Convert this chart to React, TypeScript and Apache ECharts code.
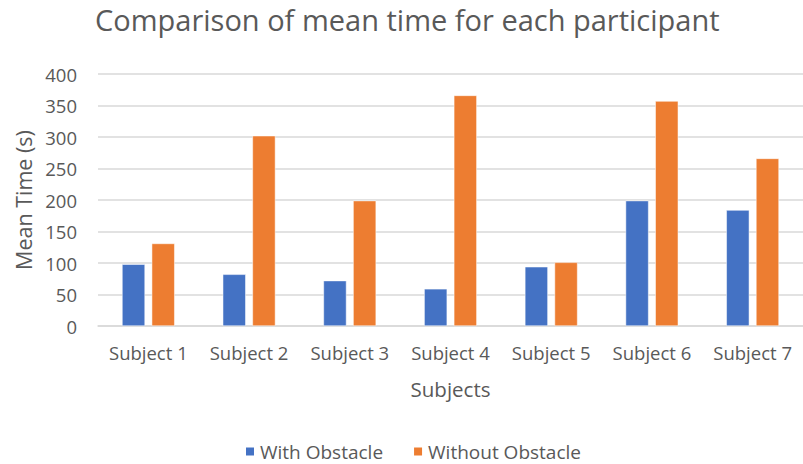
import React, { useEffect, useRef } from "react";
import * as echarts from "echarts";

const categories = ["Subject 1", "Subject 2", "Subject 3", "Subject 4", "Subject 5", "Subject 6", "Subject 7"];
const withObstacle = [98, 82, 72, 59, 94, 199, 184];
const withoutObstacle = [131, 302, 199, 366, 101, 357, 266];
const seriesNames = ["With Obstacle", "Without Obstacle"];

const FONT = "'Open Sans', 'Noto Sans', sans-serif";
const TXT = "#595959";

export default function App() {
  const ref = useRef<HTMLDivElement>(null);
  useEffect(() => {
    if (!ref.current) return;
    const chart = echarts.init(ref.current, undefined, { renderer: "svg" });
    chart.setOption({
      animation: false,
      backgroundColor: "#ffffff",
      textStyle: { fontFamily: FONT },
      title: {
        text: "Comparison of mean time for each participant",
        left: 90,
        top: 0,
        textStyle: { fontFamily: FONT, fontSize: 29, fontWeight: "normal", color: TXT },
      },
      legend: {
        data: seriesNames,
        left: 239,
        top: 437,
        itemWidth: 10,
        itemHeight: 10,
        itemGap: 29,
        icon: "rect",
        textStyle: { fontFamily: FONT, fontSize: 19, color: TXT },
      },
      grid: { left: 98, right: -11, top: 74, bottom: 138, containLabel: false },
      xAxis: {
        type: "category",
        data: categories,
        name: "Subjects",
        nameLocation: "middle",
        nameGap: 52,
        nameTextStyle: { fontFamily: FONT, fontSize: 20.5, color: TXT },
        axisLine: { lineStyle: { color: "#d9d9d9", width: 1.5 } },
        axisTick: { show: false },
        axisLabel: { fontFamily: FONT, fontSize: 18.5, color: TXT, margin: 17, interval: 0 },
      },
      yAxis: {
        type: "value",
        min: 0,
        max: 400,
        interval: 50,
        name: "Mean Time (s)",
        nameLocation: "middle",
        nameGap: 61,
        nameRotate: 90,
        nameTextStyle: { fontFamily: FONT, fontSize: 21.5, color: TXT },
        axisLine: { show: false },
        axisTick: { show: false },
        axisLabel: { fontFamily: FONT, fontSize: 18.5, color: TXT, margin: 21 },
        splitLine: { lineStyle: { color: "#d9d9d9", width: 1.5 } },
      },
      series: [
        {
          name: seriesNames[0],
          type: "bar",
          data: withObstacle,
          barWidth: 23,
          barGap: "29%",
          itemStyle: { color: "#4472C4", borderColor: "#ffffff", borderWidth: 0.5 },
        },
        {
          name: seriesNames[1],
          type: "bar",
          data: withoutObstacle,
          barWidth: 23,
          barGap: "29%",
          itemStyle: { color: "#ED7D31", borderColor: "#ffffff", borderWidth: 0.5 },
        },
      ],
    });
    return () => chart.dispose();
  }, []);
  return <div ref={ref} style={{ width: 803, height: 464, position: "fixed", left: 0, top: 0 }} />;
}
